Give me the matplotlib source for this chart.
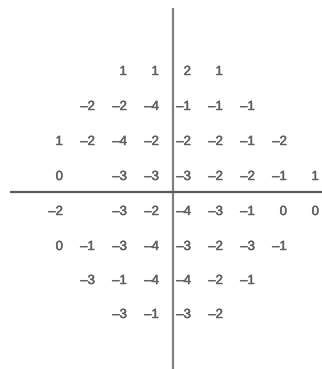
import numpy as np
import matplotlib.pyplot as plt
import matplotlib.patheffects as pe

# deviation values, 8 rows x 9 columns, None = no test point
row1 = [None, None, 1, 1, 2, 1, None, None, None]
row2 = [None, -2, -2, -4, -1, -1, -1, None, None]
row3 = [1, -2, -4, -2, -2, -2, -1, -2, None]
row4 = [0, None, -3, -3, -3, -2, -2, -1, 1]
row5 = [-2, None, -3, -2, -4, -3, -1, 0, 0]
row6 = [0, -1, -3, -4, -3, -2, -3, -1, None]
row7 = [None, -3, -1, -4, -4, -2, -1, None, None]
row8 = [None, None, -3, -1, -3, -2, None, None, None]
grid = [row1, row2, row3, row4, row5, row6, row7, row8]

W, H = 322, 369
fig = plt.figure(figsize=(W/100, H/100), dpi=100)
ax = fig.add_axes([0, 0, 1, 1])
ax.set_xlim(0, W)
ax.set_ylim(H, 0)
ax.axis('off')

col_x = 63 + 32*np.arange(9)       # right edge of each number
row_y = [72, 107, 142, 177, 212, 247, 281, 315]

col = '#606060'
for r, vals in enumerate(grid):
    for c, v in enumerate(vals):
        if v is None:
            continue
        s = str(v).replace('-', '\u2013')
        ax.text(col_x[c], row_y[r], s, ha='right', va='center',
                fontsize=9.5, color=col, family='Liberation Sans',
                path_effects=[pe.withStroke(linewidth=0.35, foreground=col)])

# cross axes
ax.plot([173, 173], [8, H], color='#808080', lw=1.6, solid_capstyle='butt')
ax.plot([10, W], [192, 192], color='#5a5a5a', lw=1.6, solid_capstyle='butt')

fig.savefig('out.png', dpi=100)
